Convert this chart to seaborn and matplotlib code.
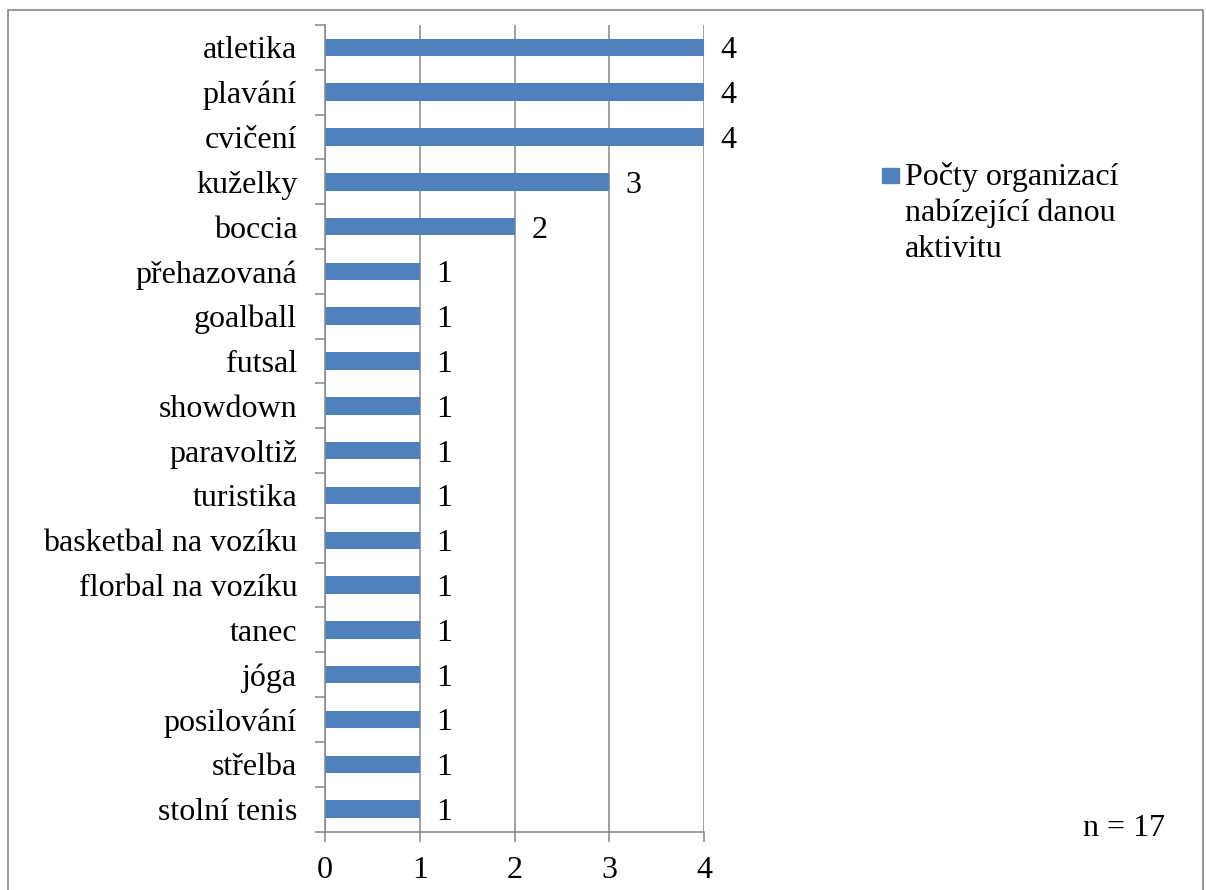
import matplotlib
matplotlib.use("Agg")
import matplotlib.pyplot as plt
from matplotlib.patches import Rectangle
import pandas as pd
import seaborn as sns

sns.set_theme(style="white")
plt.rcParams['font.family'] = ['Liberation Serif', 'DejaVu Serif']
plt.rcParams['text.color'] = 'black'

# data, top to bottom
activities = ["atletika", "plavání", "cvičení", "kuželky", "boccia", "přehazovaná",
              "goalball", "futsal", "showdown", "paravoltiž", "turistika",
              "basketbal na vozíku", "florbal na vozíku", "tanec", "jóga",
              "posilování", "střelba", "stolní tenis"]
counts = [4, 4, 4, 3, 2, 1, 1, 1, 1, 1, 1, 1, 1, 1, 1, 1, 1, 1]
x_ticks = [0, 1, 2, 3, 4]
legend_label = "Počty organizací\nnabízející danou\naktivitu"
sample_note = "n = 17"

bar_color = "#4F81BD"
line_color = "#868686"
fs = 23

df = pd.DataFrame({"aktivita": activities, "pocet": counts})

W, H = 1206, 890
fig = plt.figure(figsize=(W / 100, H / 100), dpi=100)
ax = fig.add_axes([325 / W, 1 - 831.5 / H, (704 - 325) / W, (831.5 - 25) / H])

sns.barplot(data=df, y="aktivita", x="pocet", orient="h", color=bar_color,
            width=0.39, saturation=1, linewidth=0, ax=ax)

ax.set_xlim(x_ticks[0], x_ticks[-1])
ax.set_xticks(x_ticks)
ax.set_xlabel("")
ax.set_ylabel("")

# category labels centred, tick marks between categories (excel style)
ax.set_yticks(range(len(activities)))
ax.set_yticklabels(activities)
ax.set_yticks([i - 0.5 for i in range(len(activities) + 1)], minor=True)
ax.tick_params(axis="y", which="major", length=0, pad=20, labelsize=fs, labelcolor="black")
ax.tick_params(axis="y", which="minor", left=True, length=7.5, width=1.1,
               color=line_color, direction="out")
ax.tick_params(axis="x", which="major", bottom=True, length=7.5, width=1.1,
               color=line_color, direction="out", pad=10, labelsize=fs, labelcolor="black")

ax.grid(axis="x", color=line_color, linewidth=1.1)
ax.set_axisbelow(True)
for side in ["top", "right"]:
    ax.spines[side].set_visible(False)
for side in ["left", "bottom"]:
    ax.spines[side].set_color(line_color)
    ax.spines[side].set_linewidth(1.1)

labels = ax.bar_label(ax.containers[0], padding=12, fontsize=fs, color="black")
for t in labels:
    t.set_verticalalignment("center_baseline")

# legend drawn by hand so the square sits by the first line
fig.add_artist(Rectangle((882 / W, 1 - 183 / H), 17 / W, 15 / H,
                         transform=fig.transFigure, color=bar_color))
fig.text(905 / W, 1 - 162 / H, legend_label, fontsize=fs, va="top", ha="left",
         linespacing=1.3)

fig.text(1165 / W, 1 - 829 / H, sample_note, fontsize=fs, va="center", ha="right")

# outer chart border
fig.add_artist(Rectangle((8 / W, -0.1), (1203 - 8) / W, (H - 10) / H + 0.1,
                         transform=fig.transFigure, fill=False,
                         edgecolor=line_color, linewidth=1.2))

fig.savefig("out.png", dpi=100)
